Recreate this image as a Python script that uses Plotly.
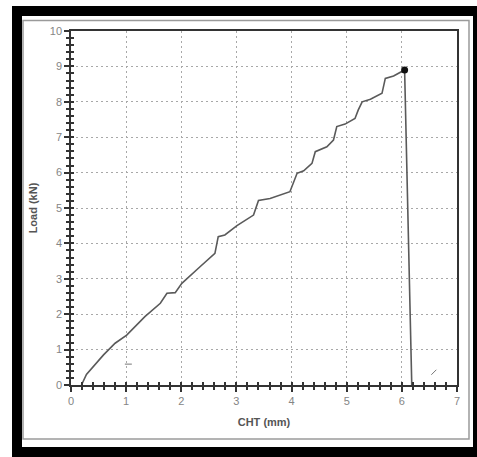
import plotly.graph_objects as go

# ---- data ----
cht_mm = [0.19, 0.28, 0.59, 0.80, 1.01, 1.34, 1.62, 1.74, 1.89, 2.01, 2.34, 2.61,
          2.67, 2.79, 3.01, 3.31, 3.40, 3.61, 3.97, 4.03, 4.10, 4.22, 4.37, 4.43,
          4.64, 4.76, 4.82, 4.97, 5.15, 5.21, 5.28, 5.43, 5.64, 5.70, 5.85, 6.05,
          6.18]
load_kn = [0.00, 0.30, 0.85, 1.18, 1.41, 1.93, 2.31, 2.59, 2.61, 2.87, 3.34, 3.72,
           4.19, 4.24, 4.50, 4.80, 5.21, 5.27, 5.46, 5.70, 5.98, 6.05, 6.26, 6.59,
           6.73, 6.92, 7.30, 7.37, 7.53, 7.77, 8.00, 8.07, 8.24, 8.66, 8.73, 8.90,
           0.00]
peak_cht = [6.05]
peak_load = [8.90]
speck_cht = [1.04, 6.58]
speck_load = [0.59, 0.36]
speck_symbols = ["line-ew", "line-ne"]

x_ticks = [0, 1, 2, 3, 4, 5, 6, 7]
y_ticks = [0, 1, 2, 3, 4, 5, 6, 7, 8, 9, 10]

# ---- figure geometry (pixels) ----
W, H = 477, 457
L, R, T, B = 71, 457, 31, 385
pw, ph = R - L, B - T


def px(x):
    return (x - L) / pw


def py(y):
    return (B - y) / ph


fig = go.Figure()

fig.add_trace(go.Scatter(
    x=cht_mm, y=load_kn, mode="lines",
    line=dict(color="#5a5a5a", width=1.6), showlegend=False, hoverinfo="x+y"))
fig.add_trace(go.Scatter(
    x=peak_cht, y=peak_load, mode="markers",
    marker=dict(color="#111111", size=7, symbol="circle"), showlegend=False))
fig.add_trace(go.Scatter(
    x=speck_cht, y=speck_load, mode="markers",
    marker=dict(symbol=speck_symbols, size=5, color="#777777",
                line=dict(color="#777777", width=1)),
    showlegend=False, hoverinfo="skip"))
# invisible trace on overlay axes so the "inside" ticks get drawn
fig.add_trace(go.Scatter(x=[0], y=[0], xaxis="x2", yaxis="y2", mode="markers",
                         marker=dict(opacity=0), showlegend=False, hoverinfo="skip"))

tick_font = dict(family="Liberation Sans, Arial, sans-serif", size=11, color="#858585")
title_font = dict(family="Liberation Sans, Arial, sans-serif", size=11, color="#555555")

common = dict(showline=True, linecolor="#333333", linewidth=1.5,
              gridcolor="#a8a8a8", gridwidth=1, griddash="2px,3px",
              zeroline=False, tickfont=tick_font, tickcolor="#333333")

fig.update_layout(
    width=W, height=H,
    margin=dict(l=L, r=W - R, t=T, b=H - B, pad=0),
    paper_bgcolor="white", plot_bgcolor="white",
    xaxis=dict(range=[0, 7], tickvals=x_ticks, ticktext=[str(v) for v in x_ticks],
               ticks="outside", ticklen=5, tickwidth=1.5,
               minor=dict(dtick=0.2, ticks="outside", ticklen=3, tickwidth=1.5,
                          tickcolor="#333333", showgrid=False),
               mirror=True,
               title=dict(text="<b>CHT (mm)</b>", font=title_font, standoff=12),
               **common),
    yaxis=dict(range=[0, 10], tickvals=y_ticks, ticktext=[str(v) for v in y_ticks],
               ticks="outside", ticklen=5, tickwidth=1.5,
               minor=dict(dtick=0.2, ticks="outside", ticklen=3, tickwidth=1.5,
                          tickcolor="#333333", showgrid=False),
               mirror=True,
               title=dict(text="<b>Load (kN)</b>", font=title_font, standoff=10),
               **common),
    xaxis2=dict(overlaying="x", matches="x", range=[0, 7], showgrid=False,
                showline=False, zeroline=False, showticklabels=False,
                tickvals=x_ticks, ticks="inside", ticklen=3, tickwidth=1.5,
                tickcolor="#333333",
                minor=dict(dtick=0.2, ticks="inside", ticklen=3, tickwidth=1.5,
                           tickcolor="#333333", showgrid=False)),
    yaxis2=dict(overlaying="y", matches="y", range=[0, 10], showgrid=False,
                showline=False, zeroline=False, showticklabels=False,
                tickvals=y_ticks, ticks="inside", ticklen=3, tickwidth=1.5,
                tickcolor="#333333",
                minor=dict(dtick=0.2, ticks="inside", ticklen=3, tickwidth=1.5,
                           tickcolor="#333333", showgrid=False)),
)

# framing: black border, white inner area, light gray inner box
fig.add_shape(type="rect", xref="paper", yref="paper", layer="below",
              x0=px(12), x1=px(W + 2), y0=py(6), y1=py(H + 2),
              fillcolor="black", line=dict(width=0))
fig.add_shape(type="rect", xref="paper", yref="paper", layer="below",
              x0=px(22), x1=px(473), y0=py(16), y1=py(447),
              fillcolor="white", line=dict(width=0))
fig.add_shape(type="rect", xref="paper", yref="paper", layer="below",
              x0=px(23), x1=px(469), y0=py(20.5), y1=py(439),
              fillcolor="rgba(0,0,0,0)", line=dict(color="#9a9a9a", width=1.5))

fig.write_html("out.html",
               config={"displayModeBar": False},
               post_script="document.body.style.margin='0';"
                           "document.body.style.overflow='hidden';")
